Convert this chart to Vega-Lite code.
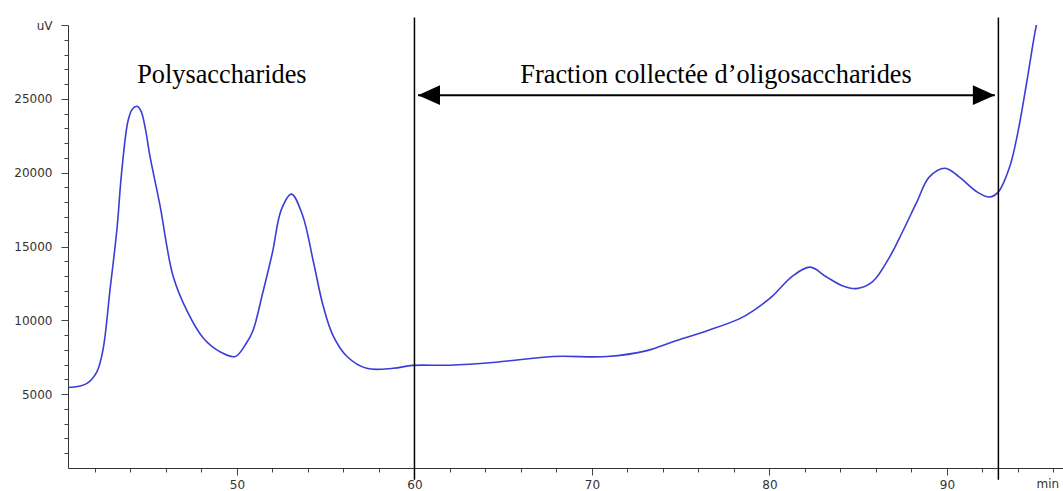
{
  "$schema": "https://vega.github.io/schema/vega-lite/v6.json",
  "width": 995,
  "height": 443,
  "autosize": {"type": "none"},
  "padding": {"left": 68, "top": 25, "right": 0, "bottom": 23},
  "background": "white",
  "config": {
    "view": {"stroke": null},
    "axis": {
      "domainColor": "#333333",
      "tickColor": "#444444",
      "labelColor": "#333333",
      "labelFont": "DejaVu Sans",
      "labelFontSize": 12,
      "grid": false,
      "titleFont": "DejaVu Sans",
      "titleFontSize": 12,
      "titleFontWeight": "normal",
      "titleColor": "#333333"
    }
  },
  "datasets": {
    "curve": [
      {"t": 40.5, "uv": 5450}, {"t": 41.5, "uv": 5700}, {"t": 42.1, "uv": 6500},
      {"t": 42.45, "uv": 8000}, {"t": 42.85, "uv": 12100}, {"t": 43.24, "uv": 16200},
      {"t": 43.5, "uv": 20000}, {"t": 43.86, "uv": 23500}, {"t": 44.1, "uv": 24300},
      {"t": 44.37, "uv": 24500}, {"t": 44.6, "uv": 24150},
      {"t": 44.85, "uv": 22900}, {"t": 45.1, "uv": 21100}, {"t": 45.66, "uv": 17800},
      {"t": 46.4, "uv": 13000}, {"t": 47.2, "uv": 10600}, {"t": 48.1, "uv": 8800},
      {"t": 49.0, "uv": 7900}, {"t": 49.9, "uv": 7550}, {"t": 50.5, "uv": 8400},
      {"t": 50.9, "uv": 9300}, {"t": 51.46, "uv": 11900}, {"t": 52.0, "uv": 14600},
      {"t": 52.5, "uv": 17500}, {"t": 53.07, "uv": 18550}, {"t": 53.7, "uv": 17100},
      {"t": 54.3, "uv": 14000}, {"t": 54.85, "uv": 11000}, {"t": 55.4, "uv": 9000},
      {"t": 56.2, "uv": 7550}, {"t": 57.3, "uv": 6750}, {"t": 58.8, "uv": 6750},
      {"t": 59.9, "uv": 6950}, {"t": 62.0, "uv": 6960}, {"t": 64.4, "uv": 7140},
      {"t": 67.8, "uv": 7550}, {"t": 70.85, "uv": 7550}, {"t": 73.1, "uv": 7950},
      {"t": 74.6, "uv": 8560}, {"t": 76.5, "uv": 9300}, {"t": 78.3, "uv": 10100},
      {"t": 79.1, "uv": 10660}, {"t": 80.2, "uv": 11680}, {"t": 81.3, "uv": 13000},
      {"t": 82.3, "uv": 13600}, {"t": 83.2, "uv": 12950}, {"t": 84.1, "uv": 12350},
      {"t": 84.9, "uv": 12150}, {"t": 85.8, "uv": 12600}, {"t": 86.8, "uv": 14350},
      {"t": 87.5, "uv": 16000}, {"t": 88.3, "uv": 18000}, {"t": 89.0, "uv": 19700},
      {"t": 89.9, "uv": 20300}, {"t": 90.7, "uv": 19700}, {"t": 91.7, "uv": 18700},
      {"t": 92.4, "uv": 18350}, {"t": 92.9, "uv": 18700}, {"t": 93.55, "uv": 20450},
      {"t": 94.0, "uv": 22750}, {"t": 94.5, "uv": 26150}, {"t": 94.96, "uv": 29500},
      {"t": 95.1, "uv": 30300}
    ],
    "limits": [
      {"t": 60, "lo": -800, "hi": 30500},
      {"t": 92.9, "lo": -800, "hi": 30500}
    ],
    "arrow": [
      {"from": 60.2, "to": 92.7, "level": 25250}
    ],
    "labels": [
      {"t": 49.15, "uv": 26050, "label": "Polysaccharides"},
      {"t": 76.99, "uv": 26050, "label": "Fraction collectée d’oligosaccharides"}
    ]
  },
  "resolve": {"axis": {"x": "independent", "y": "independent"}},
  "layer": [
    {
      "data": {"name": "curve"},
      "mark": {"type": "line", "interpolate": "catmull-rom", "color": "#3c3cd6", "strokeWidth": 1.6, "clip": true},
      "encoding": {
        "x": {
          "field": "t", "type": "quantitative",
          "scale": {"domain": [40.48, 96.54], "nice": false, "zero": false},
          "axis": {
            "orient": "bottom", "values": [50, 60, 70, 80, 90], "tickSize": 7,
            "labelPadding": 4, "title": "min", "titleAnchor": "start", "titleAlign": "left",
            "titleBaseline": "alphabetic", "titleX": 968, "titleY": 19, "labelFlush": false
          }
        },
        "y": {
          "field": "uv", "type": "quantitative",
          "scale": {"domain": [0, 30000], "nice": false},
          "axis": {
            "orient": "left", "values": [5000, 10000, 15000, 20000, 25000, 30000],
            "labelExpr": "datum.value == 30000 ? 'uV' : datum.value", "tickSize": 7,
            "labelPadding": 9, "title": null, "labelFlush": false
          }
        }
      }
    },
    {
      "data": {"name": "limits"},
      "mark": {"type": "rule", "color": "black", "strokeWidth": 1.5},
      "encoding": {
        "x": {
          "field": "t", "type": "quantitative",
          "axis": {
            "orient": "bottom", "values": [42, 44, 46, 48, 52, 54, 56, 58, 62, 64, 66, 68, 72, 74, 76, 78, 82, 84, 86, 88, 92, 94, 96],
            "tickSize": 4, "labels": false, "title": null, "domain": false
          }
        },
        "y": {
          "field": "lo", "type": "quantitative",
          "axis": {
            "orient": "left", "values": [1000, 2000, 3000, 4000, 6000, 7000, 8000, 9000, 11000, 12000, 13000, 14000, 16000, 17000, 18000, 19000, 21000, 22000, 23000, 24000, 26000, 27000, 28000, 29000],
            "tickSize": 4, "labels": false, "title": null, "domain": false
          }
        },
        "y2": {"field": "hi"}
      }
    },
    {
      "data": {"name": "arrow"},
      "mark": {"type": "rule", "color": "black", "strokeWidth": 2},
      "encoding": {
        "x": {"field": "from", "type": "quantitative", "axis": null},
        "x2": {"field": "to"},
        "y": {"field": "level", "type": "quantitative", "axis": null}
      }
    },
    {
      "data": {"name": "arrow"},
      "mark": {"type": "point", "shape": "M0,0L2,-0.9L2,0.9Z", "filled": true, "color": "black", "opacity": 1, "size": 484, "strokeWidth": 0},
      "encoding": {
        "x": {"field": "from", "type": "quantitative", "axis": null},
        "y": {"field": "level", "type": "quantitative", "axis": null}
      }
    },
    {
      "data": {"name": "arrow"},
      "mark": {"type": "point", "shape": "M0,0L-2,-0.9L-2,0.9Z", "filled": true, "color": "black", "opacity": 1, "size": 484, "strokeWidth": 0},
      "encoding": {
        "x": {"field": "to", "type": "quantitative", "axis": null},
        "y": {"field": "level", "type": "quantitative", "axis": null}
      }
    },
    {
      "data": {"name": "labels"},
      "mark": {"type": "text", "font": "Liberation Serif", "fontSize": 26.3, "color": "black", "align": "center", "baseline": "alphabetic"},
      "encoding": {
        "x": {"field": "t", "type": "quantitative", "axis": null},
        "y": {"field": "uv", "type": "quantitative", "axis": null},
        "text": {"field": "label"}
      }
    }
  ]
}
